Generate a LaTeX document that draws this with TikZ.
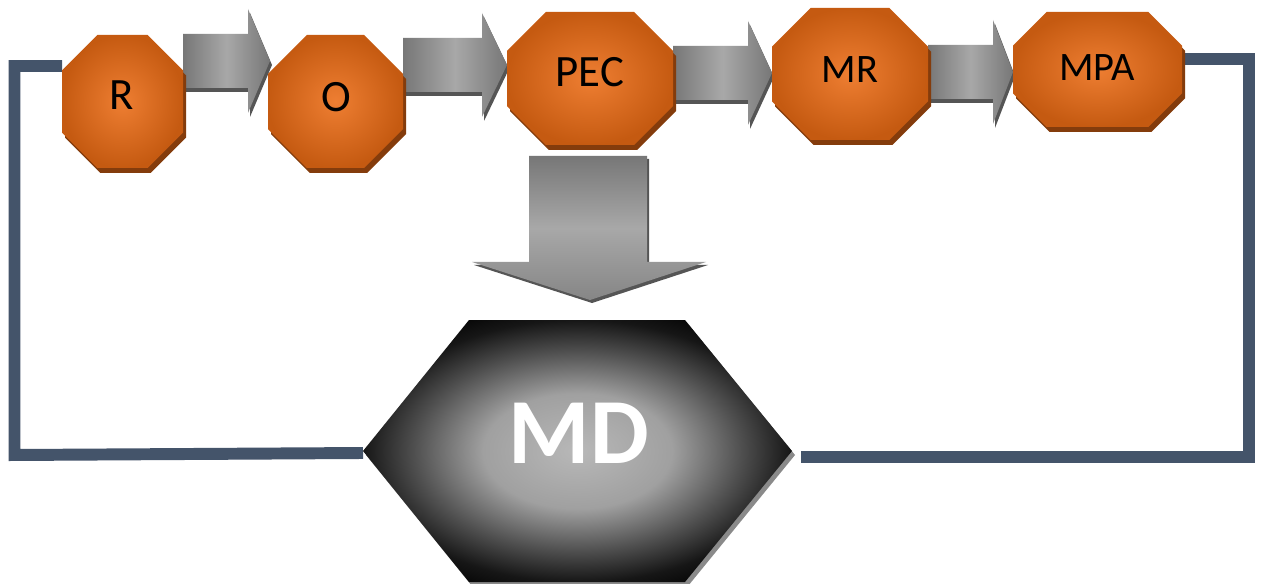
\documentclass[tikz,border=0pt]{standalone}
\usepackage{fontspec}
\setmainfont{Carlito}
\usetikzlibrary{calc}
\definecolor{octlight}{HTML}{EE7E32}
\definecolor{octdark}{HTML}{C55A11}
\definecolor{octshadow}{HTML}{843C0C}
\definecolor{arrdark}{HTML}{777777}
\definecolor{arrlight}{HTML}{A8A8A8}
\definecolor{arrshadow}{HTML}{555555}
\definecolor{linecol}{HTML}{44546A}
\definecolor{mdc}{HTML}{B8B8B8}
\definecolor{mdm}{HTML}{A0A0A0}
\definecolor{mdd}{HTML}{505050}
\definecolor{mde}{HTML}{161616}
\definecolor{mdshadow}{HTML}{8A8A8A}
\pgfdeclareradialshading{mdshade}{\pgfpoint{0bp}{0bp}}{color(0bp)=(mdc); color(11bp)=(mdm); color(19bp)=(mdd); color(25bp)=(mde); color(30bp)=(black); color(50bp)=(black)}
\newcommand\octbox[4]{%
  \pgfmathsetmacro\octc{0.293*min(#3-#1,#4-#2)}%
  \pgfmathsetmacro\octxa{#1+\octc}\pgfmathsetmacro\octxb{#3-\octc}%
  \pgfmathsetmacro\octya{#2+\octc}\pgfmathsetmacro\octyb{#4-\octc}%
  \fill[octshadow,shift={(3,5)}] (\octxa,#2)--(\octxb,#2)--(#3,\octya)--(#3,\octyb)--(\octxb,#4)--(\octxa,#4)--(#1,\octyb)--(#1,\octya)--cycle;
  \shade[inner color=octlight,outer color=octdark] (\octxa,#2)--(\octxb,#2)--(#3,\octya)--(#3,\octyb)--(\octxb,#4)--(\octxa,#4)--(#1,\octyb)--(#1,\octya)--cycle;
}
\newcommand\rarr[4]{%
  \fill[arrshadow,shift={(2,4)}] (#1,{#4-27})--(#2,{#4-27})--(#2,{#4-52})--(#3,#4)--(#2,{#4+52})--(#2,{#4+27})--(#1,{#4+27})--cycle;
  \shade[left color=arrdark,right color=arrdark,middle color=arrlight] (#1,{#4-27})--(#2,{#4-27})--(#2,{#4-52})--(#3,#4)--(#2,{#4+52})--(#2,{#4+27})--(#1,{#4+27})--cycle;
}
\tikzset{
  lbl/.style={font=\fontsize{25.5}{30}\selectfont, text=black, inner sep=0pt},
  lblsmall/.style={font=\fontsize{23}{28}\selectfont, text=black, inner sep=0pt},
  mdlbl/.style={font=\fontsize{53}{60}\selectfont\bfseries, text=white, inner sep=0pt},
  conn/.style={draw=linecol, line width=6.8pt, line join=miter, line cap=butt}
}
\begin{document}
\begin{tikzpicture}[x=0.02cm,y=-0.02cm]
\useasboundingbox (0,0) rectangle (1261,584);
\fill[white] (0,0) rectangle (1261,584);
% connectors
\coordinate (Rw) at (62,66);
\coordinate (L1) at (14.5,66);
\coordinate (L2) at (14.5,455);
\coordinate (MDw) at (363,453);
\coordinate (MPAe) at (1182,59);
\coordinate (R1) at (1249,59);
\coordinate (R2) at (1249,457);
\coordinate (MDe) at (801,457);
\draw[conn] (Rw) -- (L1) -- (L2) -- (MDw);
\draw[conn] (MPAe) -- (R1) -- (R2) -- (MDe);
% block arrows
\rarr{183}{248}{270}{61}
\rarr{403}{482}{507}{65}
\rarr{673}{748}{772}{73}
\rarr{928}{993}{1013}{72}
% octagons
\octbox{62}{35}{183}{168}
\octbox{268}{35}{403}{168}
\octbox{507}{12}{673}{145}
\octbox{772}{8}{928}{140}
\octbox{1013}{12}{1182}{127}
\node[lbl] (R) at (122,95) {R};
\node[lbl] (O) at (336,97) {O};
\node[lbl] (PEC) at (590,72) {PEC};
\node[lblsmall] (MR) at (850,70) {MR};
\node[lblsmall] (MPA) at (1097,68) {MPA};
% down arrow
\fill[arrshadow,shift={(2,3)}] (529,156)--(647,156)--(647,262)--(706,262)--(590,300)--(472,262)--(529,262)--cycle;
\shade[top color=arrdark,bottom color=arrdark!70!arrlight,middle color=arrlight] (529,156)--(647,156)--(647,262)--(706,262)--(590,300)--(472,262)--(529,262)--cycle;
% MD hexagon
\fill[mdshadow,shift={(3,4)}] (469,320)--(685,320)--(792,451)--(685,582)--(469,582)--(363,451)--cycle;
\shade[shading=mdshade] (469,320)--(685,320)--(792,451)--(685,582)--(469,582)--(363,451)--cycle;
\node[mdlbl] (MD) at (579,433) {MD};
\end{tikzpicture}
\end{document}
